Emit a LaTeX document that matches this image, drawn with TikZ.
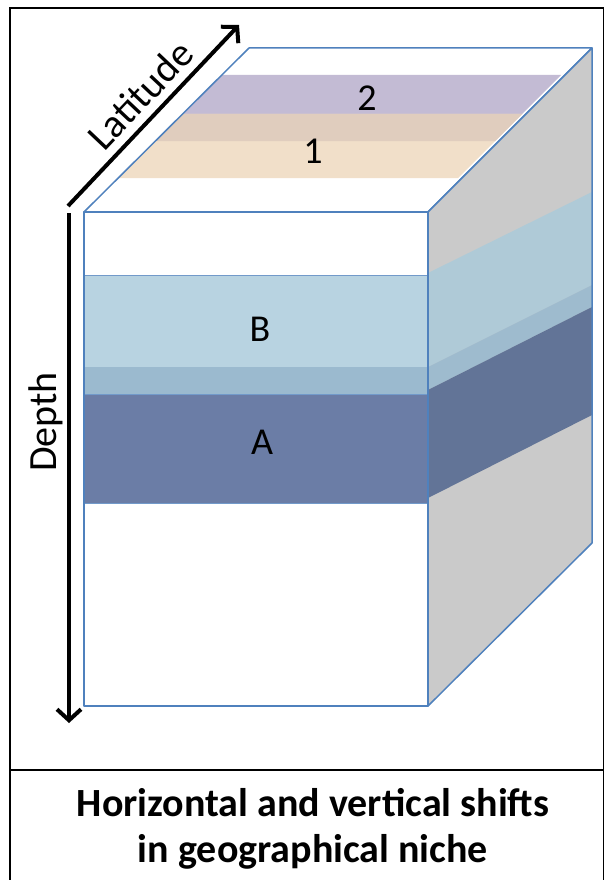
\documentclass[tikz,border=0pt]{standalone}
\usepackage{fontspec}
\setmainfont{Carlito}
\usetikzlibrary{arrows.meta}
\definecolor{edgeblue}{HTML}{4F81BD}
\definecolor{bandpurple}{HTML}{C3BBD4}
\definecolor{bandmix}{HTML}{E0CDBE}
\definecolor{bandbeige}{HTML}{F1DFC9}
\definecolor{frontB}{HTML}{B8D3E1}
\definecolor{frontAB}{HTML}{9BBACF}
\definecolor{frontA}{HTML}{6B7DA6}
\definecolor{sideB}{HTML}{AFCAD7}
\definecolor{sideAB}{HTML}{9EBBCE}
\definecolor{sideA}{HTML}{627497}
\definecolor{sidegray}{HTML}{CACACA}
\tikzset{
  faceline/.style={draw=edgeblue, line width=1.5pt, line join=round},
  bigarrow/.style={line width=4pt, -{Straight Barb[length=11pt,width=24pt,line width=4pt]}},
  lbl/.style={font=\fontsize{38}{42}\selectfont, inner sep=0pt},
  axislbl/.style={font=\fontsize{40}{44}\selectfont, inner sep=0pt},
  framel/.style={line width=1.5pt, black}
}
\begin{document}
\begin{tikzpicture}[x=1pt,y=-1pt]
\useasboundingbox (0,0) rectangle (605,880);
\fill[white] (0,0) rectangle (605,880);
% frame
\draw[framel] (10,880) -- (10,8) -- (603.5,8) -- (603.5,880);
\draw[framel] (10,770) -- (603.5,770);
% top face
\fill[white] (84,212) -- (249,48) -- (592,48) -- (428,212) -- cycle;
\fill[bandpurple] (221.8,75) -- (561,75) -- (495,141) -- (155.4,141) -- cycle;
\fill[bandbeige] (182.6,114) -- (522,114) -- (458,178) -- (118.2,178) -- cycle;
\fill[bandmix] (182.6,114) -- (522,114) -- (495,141) -- (155.4,141) -- cycle;
\draw[faceline] (84,212) -- (249,48) -- (592,48) -- (428,212) -- cycle;
% right face
\fill[sidegray] (428,212) -- (592,48) -- (592,543) -- (428,706) -- cycle;
\fill[sideB] (428,273) -- (592,192) -- (592,285) -- (428,367) -- cycle;
\fill[sideAB] (428,367) -- (592,285) -- (592,307) -- (428,390) -- cycle;
\fill[sideA] (428,390) -- (592,307) -- (592,415) -- (428,498) -- cycle;
\draw[faceline] (428,212) -- (592,48) -- (592,543) -- (428,706) -- cycle;
% front face
\fill[white] (84,212) rectangle (428,706);
\fill[frontB] (84,275) rectangle (428,367);
\fill[frontAB] (84,367) rectangle (428,394);
\fill[frontA] (84,394) rectangle (428,503);
\draw[draw=edgeblue!80, line width=1pt] (84,275) rectangle (428,394);
\draw[draw=edgeblue!80, line width=1pt] (84,394) rectangle (428,503);
\draw[faceline] (84,212) rectangle (428,706);
% labels
\node[lbl] (l2) at (367,98) {2};
\node[lbl] (l1) at (313,151) {1};
\node[lbl] (lB) at (260,329) {B};
\node[lbl] (lA) at (262,442) {A};
% axes
\coordinate (latS) at (68,206);
\coordinate (latE) at (239,25);
\coordinate (depS) at (69,213);
\coordinate (depE) at (69,723);
\draw[bigarrow] (latS) -- (latE);
\draw[bigarrow] (depS) -- (depE);
\node[axislbl, rotate=46.6] (lat) at (140,95) {Latitude};
\node[axislbl, rotate=90] (dep) at (46,422) {Depth};
% caption
\node[font=\bfseries\fontsize{40}{46}\selectfont, align=center, inner sep=0pt] (caption) at (313,829) {Horizontal and vertical shifts\\in geographical niche};
\end{tikzpicture}
\end{document}
